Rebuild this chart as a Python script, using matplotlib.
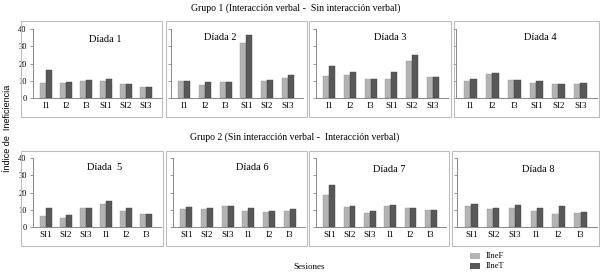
import matplotlib
matplotlib.use("Agg")
import matplotlib.pyplot as plt
from matplotlib.patches import Rectangle
import numpy as np

W, H = 600, 273

group1_title = "Grupo 1 (Interacción verbal -  Sin interacción verbal)"
group2_title = "Grupo 2 (Sin interacción verbal -  Interacción verbal)"
ylabel = "Índice de  Ineficiencia"
xlabel = "Sesiones"
series_names = ["IIneF", "IIneT"]
yticks = [0, 10, 20, 30, 40]

cats_g1 = ["I1", "I2", "I3", "SI1", "SI2", "SI3"]
cats_g2 = ["SI1", "SI2", "SI3", "I1", "I2", "I3"]

titles = ["Díada 1", "Díada 2", "Díada 3", "Díada 4",
          "Díada  5", "Díada 6", "Díada 7", "Díada 8"]

d1_f = [8.5, 8.5, 10.0, 9.8, 8.3, 6.3]
d1_t = [16.0, 9.5, 10.3, 11.0, 8.3, 6.3]
d2_f = [10.0, 7.8, 9.2, 32.0, 10.0, 11.6]
d2_t = [10.0, 9.0, 9.5, 36.5, 10.3, 13.6]
d3_f = [12.6, 13.2, 11.0, 11.2, 21.5, 12.2]
d3_t = [18.3, 15.0, 11.3, 15.2, 25.2, 12.4]
d4_f = [9.7, 13.8, 10.5, 8.5, 8.0, 8.0]
d4_t = [11.3, 14.4, 10.5, 9.7, 8.0, 8.5]
d5_f = [6.2, 5.5, 11.3, 13.3, 9.0, 7.8]
d5_t = [11.3, 7.2, 11.3, 15.2, 10.9, 7.8]
d6_f = [10.7, 10.3, 12.3, 9.4, 8.8, 9.0]
d6_t = [11.5, 11.1, 12.3, 10.9, 9.0, 10.5]
d7_f = [18.5, 11.7, 8.4, 11.9, 11.1, 9.6]
d7_t = [24.6, 12.1, 9.2, 12.9, 11.1, 10.0]
d8_f = [12.3, 10.3, 11.1, 9.0, 7.6, 8.2]
d8_t = [13.3, 11.1, 12.5, 11.1, 12.3, 8.6]

data_f = [d1_f, d2_f, d3_f, d4_f, d5_f, d6_f, d7_f, d8_f]
data_t = [d1_t, d2_t, d3_t, d4_t, d5_t, d6_t, d7_t, d8_t]
cats = [cats_g1] * 4 + [cats_g2] * 4

# Layout in pixels (left, top, right, bottom)
frames = [(21, 21, 162, 117), (166, 21, 307, 117), (309, 21, 451, 117), (454, 21, 599, 117),
          (21, 151, 163, 246), (166, 151, 307, 246), (309, 151, 449, 246), (452, 151, 599, 246)]
axes_px = [(33, 29, 161, 98), (171, 29, 303, 98), (316, 29, 448, 98), (456, 29, 597, 98),
           (33, 158, 161, 227), (173, 158, 305, 227), (316, 158, 446, 227), (457, 158, 597, 227)]
title_px = [(105, 40), (220, 38), (390, 38), (540, 38),
            (105, 167), (252, 167), (389, 170), (538, 170)]

C_F = "#b3b3b3"
C_T = "#585858"
SERIF = "Liberation Serif"

fig = plt.figure(figsize=(W / 100, H / 100), dpi=100)
fig.patch.set_facecolor("white")

def fx(x):
    return x / W

def fy(y):
    return 1 - y / H

for i in range(8):
    l, t, r, b = frames[i]
    fig.patches.append(Rectangle((fx(l), fy(b)), fx(r - l), (b - t) / H,
                                 transform=fig.transFigure, fill=False,
                                 edgecolor="#bdbdbd", linewidth=0.8))
    l, t, r, b = axes_px[i]
    ax = fig.add_axes([fx(l), fy(b), fx(r - l), (b - t) / H])
    x = np.arange(6)
    w = 0.29
    ax.bar(x - w / 2, data_f[i], w, color=C_F, edgecolor="#9a9a9a", linewidth=0.3)
    ax.bar(x + w / 2, data_t[i], w, color=C_T, edgecolor="#404040", linewidth=0.3)
    ax.set_xlim(-0.65, 5.75)
    ax.set_ylim(0, 40)
    ax.set_yticks(yticks)
    ax.set_xticks(x)
    ax.set_xticklabels(cats[i], fontfamily=SERIF, fontsize=6.5)
    ax.tick_params(axis="x", length=0, pad=3)
    ax.tick_params(axis="y", length=2.5, width=0.6, color="#888888", pad=2)
    if i in (0, 4):
        ax.set_yticklabels([str(v) for v in yticks], fontfamily=SERIF, fontsize=6)
    else:
        ax.set_yticklabels([])
    for s in ("top", "right"):
        ax.spines[s].set_visible(False)
    for s in ("left", "bottom"):
        ax.spines[s].set_color("#888888")
        ax.spines[s].set_linewidth(0.7)
    ax.patch.set_alpha(0)
    tx, ty = title_px[i]
    fig.text(fx(tx), fy(ty), titles[i], ha="center", va="center",
             fontfamily=SERIF, fontsize=7.5)

fig.text(fx(296), fy(8), group1_title, ha="center", va="center", fontfamily=SERIF, fontsize=7)
fig.text(fx(295), fy(137), group2_title, ha="center", va="center", fontfamily=SERIF, fontsize=7)
fig.text(fx(8), fy(128), ylabel, ha="center", va="center", rotation=90,
         fontfamily="Liberation Sans", fontsize=6.5)
fig.text(fx(309), fy(267), xlabel, ha="center", va="center", fontfamily=SERIF, fontsize=6.5)

# Legend
for k, (name, c) in enumerate(zip(series_names, [C_F, C_T])):
    yy = 256 + k * 10
    fig.patches.append(Rectangle((fx(470), fy(yy + 3)), fx(10), 6 / H,
                                 transform=fig.transFigure, facecolor=c, edgecolor="none"))
    fig.text(fx(486), fy(yy), name, ha="left", va="center", fontfamily=SERIF, fontsize=6)

fig.savefig("out.png", dpi=100)
